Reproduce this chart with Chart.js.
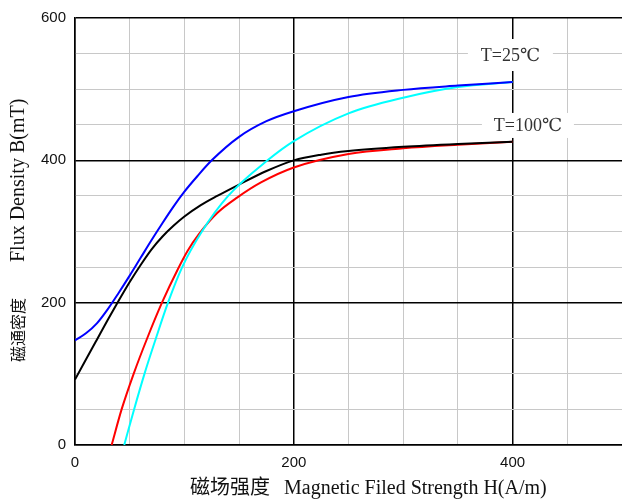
<!DOCTYPE html>
<html>
<head>
<meta charset="utf-8">
<script src="https://cdn.jsdelivr.net/npm/chart.js@4.4.0/dist/chart.umd.min.js"></script>
<style>
  html, body { margin: 0; padding: 0; background: #fff; }
  canvas { display: block; }
</style>
</head>
<body>
<canvas id="bhChart" width="622" height="501"></canvas>
<script>
// B-H curves: H in A/m, B in mT
const blueH  = [0, 10, 20, 30, 40, 50, 60, 70, 80, 90, 100, 112, 125, 150, 175, 200, 250, 300, 350, 400];
const blueB  = [147, 157, 171, 191, 214, 238, 263, 288, 312, 335, 356, 378, 400, 433, 455, 469, 489, 499, 505, 510];
const cyanH  = [45, 54, 63.5, 74, 85, 98, 116, 140, 176, 200, 250, 300, 350, 400];
const cyanB  = [0, 50, 100, 150, 200, 250, 300, 350, 400, 427, 466, 488, 503, 510];
const blackH = [0, 10, 20, 30, 40, 50, 60, 70, 80, 90, 100, 115, 130, 150, 175, 200, 225, 250, 300, 350, 400];
const blackB = [92, 120, 148, 176, 203, 229, 253, 275, 293, 308, 321, 337, 350, 366, 385, 400, 408, 413, 419, 423, 426];
const redH   = [33.5, 42.6, 53.6, 66, 79.5, 94, 103, 113.6, 130, 148.5, 170, 200, 250, 300, 350, 400];
const redB   = [0, 50, 100, 150, 200, 247, 273, 297, 326, 348, 369, 390, 409, 417, 422, 426];

const xTickLabels = [0, 200, 400];
const yTickLabels = [0, 200, 400, 600];
const tempLabels = ["T=25\u2103", "T=100\u2103"];

function toPoints(hs, bs) {
    return hs.map((h, i) => ({ x: h, y: bs[i] }));
}

function curve(hs, bs, colour) {
    return {
        data: toPoints(hs, bs),
        borderColor: colour,
        borderWidth: 2,
        pointRadius: 0,
        fill: false,
        cubicInterpolationMode: "monotone"
    };
}

const isMajor = ctx => ctx.tick && ctx.tick.value % 200 === 0;
const gridColour = ctx => isMajor(ctx) ? "#000" : "#c8c8c8";
const gridWidth = ctx => isMajor(ctx) ? 1.5 : 1;

// axis titles and the two temperature labels
const textPlugin = {
    id: "bhText",
    afterDraw(chart) {
        const ctx = chart.ctx;
        const sx = chart.scales.x, sy = chart.scales.y;
        ctx.save();
        ctx.fillStyle = "#111";
        ctx.textBaseline = "alphabetic";
        ctx.textAlign = "left";

        // x title
        ctx.font = '20px "Noto Sans CJK SC"';
        ctx.fillText("磁场强度", 190, 494);
        let w = ctx.measureText("磁场强度").width;
        ctx.font = '20px "Liberation Serif"';
        ctx.fillText("Magnetic Filed Strength H(A/m)", 190 + w + 14, 494);

        // y title, rotated
        ctx.save();
        ctx.translate(24, 362);
        ctx.rotate(-Math.PI / 2);
        ctx.font = '16px "Noto Sans CJK SC"';
        ctx.fillText("磁通密度", 0, 0);
        w = ctx.measureText("磁通密度").width;
        ctx.font = '20px "Liberation Serif"';
        ctx.fillText("Flux Density B(mT)", w + 36, 0);
        ctx.restore();

        // temperature labels with white boxes
        const spots = [
            { text: tempLabels[0], cx: sx.getPixelForValue(398), cy: sy.getPixelForValue(548), w: 85, h: 32 },
            { text: tempLabels[1], cx: sx.getPixelForValue(414), cy: sy.getPixelForValue(449), w: 92, h: 25 }
        ];
        ctx.font = '18px "Liberation Serif", "DejaVu Serif"';
        ctx.textAlign = "center";
        ctx.textBaseline = "middle";
        spots.forEach(s => {
            ctx.fillStyle = "#fff";
            ctx.fillRect(s.cx - s.w / 2, s.cy - s.h / 2, s.w, s.h);
            ctx.fillStyle = "#333";
            ctx.fillText(s.text, s.cx, s.cy + 1);
        });
        ctx.restore();
    }
};

new Chart(document.getElementById("bhChart").getContext("2d"), {
    type: "line",
    data: {
        datasets: [
            curve(blueH, blueB, "#0000ff"),
            curve(cyanH, cyanB, "#00ffff"),
            curve(blackH, blackB, "#000000"),
            curve(redH, redB, "#ff0000")
        ]
    },
    options: {
        responsive: false,
        animation: false,
        devicePixelRatio: 1,
        layout: { padding: { top: 15, right: 0, left: 0, bottom: 0 } },
        plugins: { legend: { display: false }, tooltip: { enabled: false } },
        scales: {
            x: {
                type: "linear",
                min: 0,
                max: 500,
                afterFit: scale => {
                    scale.height = 56;
                    scale.paddingRight = 0;
                },
                border: { color: "#000", width: 1.5 },
                grid: { color: gridColour, lineWidth: gridWidth, drawTicks: false },
                ticks: {
                    stepSize: 50,
                    autoSkip: false,
                    maxRotation: 0,
                    padding: 9,
                    color: "#111",
                    font: { family: "Liberation Sans", size: 15 },
                    callback: v => xTickLabels.includes(v) ? String(v) : ""
                }
            },
            y: {
                min: 0,
                max: 600,
                afterFit: scale => { scale.width = 75; },
                border: { color: "#000", width: 1.5 },
                grid: { color: gridColour, lineWidth: gridWidth, drawTicks: false },
                ticks: {
                    stepSize: 50,
                    autoSkip: false,
                    padding: 9,
                    color: "#111",
                    font: { family: "Liberation Sans", size: 15 },
                    callback: v => yTickLabels.includes(v) ? String(v) : ""
                }
            }
        }
    },
    plugins: [textPlugin]
});
</script>
</body>
</html>
